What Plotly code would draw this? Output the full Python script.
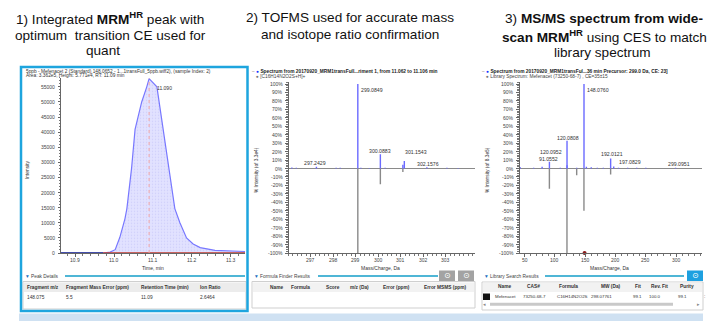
import plotly.graph_objects as go

W, H = 720, 331
def X(px): return px / W
def Y(py): return 1 - py / H

FONT = "Liberation Sans, Arial, sans-serif"
SYM = "DejaVu Sans, sans-serif"

# ---------------- data ----------------
# Panel 1: XIC of MRM-HR transition (time, min / intensity)
rt_min = [10.864, 10.972, 10.990, 11.003, 11.015, 11.028, 11.033, 11.045, 11.054,
          11.071, 11.084, 11.090, 11.110, 11.122, 11.136, 11.156, 11.169, 11.186,
          11.203, 11.221, 11.259, 11.300, 11.336]
rt_intensity = [0, 0, 300, 1100, 5200, 11300, 14700, 28000, 40900,
                50000, 55000, 57710, 55000, 44700, 33000, 14700, 10000, 5000,
                3000, 1800, 900, 600, 500]
integration_start = 10.972
apex_label = "11.090"
rt_ticks = [10.9, 11.0, 11.1, 11.2, 11.3]
int_ticks = list(range(0, 55001, 5000))

# Panel 2: TOF MS spectrum (blue, up) vs theoretical isotope pattern (gray, down)
tof_mz = [296.15, 296.35, 297.2429, 298.12, 298.30, 299.0849, 299.22, 299.60, 300.0883,
          300.30, 301.09, 301.1543, 302.1576, 303.05, 303.55]
tof_pct = [1.2, 0.8, 2.2, 0.8, 0.8, 100, 1.0, 0.6, 17, 1.0, 4.5, 9, 1.5, 0.8, 0.5]
tof_ref_mz = [299.0849, 300.0883, 301.09]
tof_ref_pct = [-100, -18.5, -4]
tof_label_mz = [299.0849, 297.2429, 300.0883, 301.1543, 302.1576]
mz_ticks_tof = [297, 298, 299, 300, 301, 302, 303]
pct_ticks = list(range(-100, 101, 10))

# Panel 3: MS/MS spectrum (blue, up) vs library spectrum (gray, down)
msms_mz = [43, 65, 79, 91.0552, 109, 120.0808, 120.0952, 136, 148.0760, 152, 160,
           170, 180, 192.0121, 197.0829, 205, 220, 235, 250, 299.0951]
msms_pct = [1.5, 1.0, 2.0, 8, 1.0, 33, 4, 1.0, 100, 2.0, 1.5, 1.0, 1.0, 12, 2.5,
            1.0, 1.0, 1.0, 1.0, 1.0]
lib_mz = [91.0, 120.0, 136.0, 148.0, 192.0]
lib_pct = [-24, -100, -8, -50, -7]
msms_label_mz = [148.0760, 120.0808, 120.0952, 91.0552, 192.0121, 197.0829, 299.0951]
precursor_marker_mz = [149]
mz_ticks_msms = [50, 100, 150, 200, 250, 300]

# table texts
peak_cols = ["Fragment m/z", "Fragment Mass Error (ppm)", "Retention Time (min)", "Ion Ratio"]
peak_row = ["148.075", "5.5", "11.09", "2.6464"]
ff_cols = ["Name", "Formula", "Score", "m/z (Da)", "Error (ppm)", "Error MSMS (ppm)"]
lib_cols = ["Name", "CAS#", "Formula", "MW (Da)", "Fit", "Rev. Fit", "Purity"]
lib_row = ["Mefenacet", "73250-68-7", "C16H14N2O2S", "298.07761", "99.1", "100.0", "99.1"]


def spikes(mz, vals):
    xs, ys = [], []
    for m, v in zip(mz, vals):
        xs += [m, m, None]
        ys += [0, v, None]
    return xs, ys


fig = go.Figure()

# ---- panel 1 ----
fig.add_trace(go.Scatter(
    x=rt_min, y=rt_intensity, mode="lines", fill="tozeroy",
    fillcolor="rgba(200,200,255,0.6)",
    fillpattern=dict(shape=".", fgcolor="rgba(150,150,235,0.5)",
                     bgcolor="rgba(206,206,255,0.6)", size=3, solidity=0.2),
    line=dict(color="#7878ff", width=1.2), xaxis="x", yaxis="y", hoverinfo="skip"))
fig.add_trace(go.Scatter(x=[rt_min[0], integration_start], y=[0, 0], mode="lines",
                         line=dict(color="#1c2a8c", width=1.3), xaxis="x", yaxis="y"))
fig.add_trace(go.Scatter(x=[integration_start, rt_min[-1]], y=[0, 0], mode="lines",
                         line=dict(color="#c0392b", width=1.3), xaxis="x", yaxis="y"))
i_apex = rt_intensity.index(max(rt_intensity))
fig.add_trace(go.Scatter(x=[rt_min[i_apex], rt_min[i_apex]], y=[0, rt_intensity[i_apex]],
                         mode="lines", line=dict(color="#f2a5a5", width=1, dash="dot"),
                         xaxis="x", yaxis="y"))

# ---- panel 2 ----
gx, gy = spikes(tof_ref_mz, tof_ref_pct)
fig.add_trace(go.Scatter(x=gx, y=gy, mode="lines", line=dict(color="#8a8a8a", width=1.4),
                         xaxis="x2", yaxis="y2"))
bx, by = spikes(tof_mz, tof_pct)
fig.add_trace(go.Scatter(x=bx, y=by, mode="lines", line=dict(color="#6a6aff", width=1.4),
                         xaxis="x2", yaxis="y2"))

# ---- panel 3 ----
gx, gy = spikes(lib_mz, lib_pct)
fig.add_trace(go.Scatter(x=gx, y=gy, mode="lines", line=dict(color="#8a8a8a", width=1.4),
                         xaxis="x3", yaxis="y3"))
bx, by = spikes(msms_mz, msms_pct)
fig.add_trace(go.Scatter(x=bx, y=by, mode="lines", line=dict(color="#6a6aff", width=1.4),
                         xaxis="x3", yaxis="y3"))
fig.add_trace(go.Scatter(x=precursor_marker_mz, y=[-100], mode="markers", cliponaxis=False,
                         marker=dict(color="#8b1a1a", size=4, symbol="circle"),
                         xaxis="x3", yaxis="y3"))

axfont = dict(family=FONT, size=5, color="#444")
common_axis = dict(showline=True, linecolor="#666", linewidth=1, ticks="outside",
                   ticklen=2.5, tickwidth=0.8, tickcolor="#666", showgrid=False,
                   showticklabels=False, fixedrange=True)

fig.update_layout(
    width=W, height=H, margin=dict(l=0, r=0, t=0, b=0),
    paper_bgcolor="white", plot_bgcolor="white", showlegend=False,
    xaxis=dict(domain=[X(61), X(245)], range=[10.864, 11.336], anchor="y",
               tickvals=rt_ticks,
               minor=dict(ticks="outside", ticklen=1.5, dtick=0.02, tickcolor="#777"),
               zeroline=False, **common_axis),
    yaxis=dict(domain=[Y(253), Y(77.8)], range=[0, 58000], anchor="x",
               tickvals=int_ticks, zeroline=False,
               minor=dict(ticks="outside", ticklen=1.5, dtick=1000, tickcolor="#777"),
               **common_axis),
    xaxis2=dict(domain=[X(288.5), X(475)], range=[296.0, 304.3], anchor="y2",
                tickvals=mz_ticks_tof, zeroline=False,
                minor=dict(ticks="outside", ticklen=1.5, dtick=0.2, tickcolor="#777"),
                **common_axis),
    yaxis2=dict(domain=[Y(253), Y(81.5)], range=[-100, 103], anchor="x2",
                tickvals=pct_ticks,
                zeroline=True, zerolinecolor="#8a8a8a", zerolinewidth=1,
                minor=dict(ticks="outside", ticklen=1.5, dtick=2, tickcolor="#777"),
                **common_axis),
    xaxis3=dict(domain=[X(519.5), X(702)], range=[41.7, 342.7], anchor="y3",
                tickvals=mz_ticks_msms, zeroline=False,
                minor=dict(ticks="outside", ticklen=1.5, dtick=10, tickcolor="#777"),
                **common_axis),
    yaxis3=dict(domain=[Y(253), Y(81.5)], range=[-100, 103], anchor="x3",
                tickvals=pct_ticks,
                zeroline=True, zerolinecolor="#8a8a8a", zerolinewidth=1,
                minor=dict(ticks="outside", ticklen=1.5, dtick=2, tickcolor="#777"),
                **common_axis),
)

ann = []
def text(px, py, s, size=5, color="#333", xanchor="left", angle=0, family=FONT):
    ann.append(dict(x=X(px), y=Y(py), xref="paper", yref="paper", text=s,
                    showarrow=False, xanchor=xanchor, yanchor="middle",
                    textangle=angle, font=dict(family=family, size=size, color=color)))

def ytick_labels(axis_px, yref, vals, suffix=""):
    for v in vals:
        ann.append(dict(x=X(axis_px - 3.5), y=v, xref="paper", yref=yref,
                        text=f"{v}{suffix}", showarrow=False, xanchor="right",
                        yanchor="middle", font=axfont))

def xtick_labels(xref, vals, fmt="{}"):
    for v in vals:
        ann.append(dict(x=v, y=Y(259.5), xref=xref, yref="paper",
                        text=fmt.format(v), showarrow=False, xanchor="center",
                        yanchor="middle", font=axfont))

ytick_labels(61, "y", int_ticks)
ytick_labels(288.5, "y2", pct_ticks, "%")
ytick_labels(519.5, "y3", pct_ticks, "%")
xtick_labels("x", rt_ticks, "{:.1f}")
xtick_labels("x2", mz_ticks_tof)
xtick_labels("x3", mz_ticks_msms)

# ---- titles ----
TS = 13.6
text(110, 18, "1) Integrated <b>MRM<sup>HR</sup></b> peak with", TS, "#111", "center")
text(110, 35, "optimum  transition CE used for", TS, "#111", "center")
text(103, 51, "quant", TS, "#111", "center")
text(350, 17, "2) TOFMS used for accurate mass", TS, "#111", "center")
text(350, 34, "and isotope ratio confirmation", TS, "#111", "center")
text(604, 19, "3) <b>MS/MS spectrum from wide-</b>", TS, "#111", "center")
text(604, 36, "<b>scan MRM<sup>HR</sup></b> using CES to match", TS, "#111", "center")
text(602, 52, "library spectrum", TS, "#111", "center")

# ---- headers ----
text(24, 71, "5ppb - Mefenacet 2 (Standard) 148.0652 - 1...1transFull_5ppb.wiff2), (sample Index: 2)", 4.8)
text(24, 76, "Area: 3.362e5, Height: 5.771e4, RT: 11.09 min", 4.8)
text(250, 71.5, "<span style='color:#666'>−</span> <span style='color:#1030ff'>●</span> "
     "<b>Spectrum from 20170920_MRM1transFull...riment 1, from 11.062 to 11.106 min</b>", 4.8, "#222")
text(254, 76.5, "<span style='color:#777'>●</span> [C16H14N2O2S+H]+", 4.8, "#444")
text(480, 71.5, "<span style='color:#666'>−</span> <span style='color:#1030ff'>●</span> "
     "<b>Spectrum from 20170920_MRM1transFul...36 min Precursor: 299.0 Da, CE: 23]</b>", 4.8, "#222")
text(484, 76.5, "<span style='color:#777'>●</span> Library Spectrum: Mefenacet (73250-68-7) , CE=35±15", 4.8, "#444")

# ---- axis titles ----
text(27, 170, "Intensity", 4.8, "#333", "center", -90)
text(153, 267.5, "Time, min", 5, "#333", "center")
text(256, 170, "% Intensity (of 3.3e4)", 4.8, "#333", "center", -90)
text(380, 267.5, "Mass/Charge, Da", 5, "#333", "center")
text(487, 170, "% Intensity (of 8.3e5)", 4.8, "#333", "center", -90)
text(609, 267.5, "Mass/Charge, Da", 5, "#333", "center")

# ---- peak labels ----
text(155, 88, apex_label, 5)
p2_pos = [(372, 90), (315, 163), (380, 151), (416, 152), (427.5, 164)]
for m, (px, py) in zip(tof_label_mz, p2_pos):
    text(px, py, f"{m:.4f}", 5.2, "#333", "center")
p3_pos = [(597.5, 90), (567.7, 137.7), (550.5, 151.7), (548.5, 159), (612, 154.3),
          (630.3, 162), (679, 164.3)]
for m, (px, py) in zip(msms_label_mz, p3_pos):
    text(px, py, f"{m:.4f}", 5.2, "#333", "center")

# ---- section headers ----
text(23, 276, "<span style='color:#1a6fc0'>▼</span> Peak Details", 4.8, "#444")
text(252, 276, "<span style='color:#1a6fc0'>▼</span> Formula Finder Results", 4.8, "#444")
text(482, 276, "<span style='color:#1a6fc0'>▼</span> Library Search Results", 4.8, "#444")

# ---- tables ----
for s, px in zip(peak_cols, [25, 64.3, 139.3, 197.7]):
    text(px, 287.3, f"<b>{s}</b>", 4.8, "#333")
for s, px in zip(peak_row, [25, 64.3, 139.3, 197.7]):
    text(px, 297.3, s, 4.8, "#333")
for s, px in zip(ff_cols, [267.7, 289, 324, 348, 381, 421.7]):
    text(px, 287.7, f"<b>{s}</b>", 4.8, "#333")
for s, px in zip(lib_cols, [496, 525, 557.3, 599.3, 632.7, 649.3, 678.3]):
    text(px, 286.8, f"<b>{s}</b>", 4.8, "#333")
for s, px in zip(lib_row, [492.5, 520.7, 554.5, 588.5, 630.7, 647.3, 676]):
    text(px, 296.8, s, 4.4, "#333")
text(701.5, 296.8, ":", 4.8, "#333")
text(484.5, 304.3, "◂", 5, "#888", "center", family=SYM)
text(698.5, 304.3, "▸", 5, "#888", "center", family=SYM)
text(447, 275.8, "⊙", 8, "white", "center", family=SYM)
text(466, 275.8, "⊙", 8, "white", "center", family=SYM)
text(695, 275.8, "⊙", 8, "white", "center", family=SYM)

fig.update_layout(annotations=ann)

shapes = []
def rect(x0, y0, x1, y1, fill=None, line=None, lw=1):
    shapes.append(dict(type="rect", xref="paper", yref="paper",
                       x0=X(x0), x1=X(x1), y0=Y(y1), y1=Y(y0),
                       fillcolor=fill if fill else "rgba(0,0,0,0)",
                       line=dict(color=line if line else "rgba(0,0,0,0)", width=lw if line else 0),
                       layer="below"))
def hline(x0, x1, py, color, lw):
    shapes.append(dict(type="line", xref="paper", yref="paper", x0=X(x0), x1=X(x1),
                       y0=Y(py), y1=Y(py), line=dict(color=color, width=lw)))

# panel 1 frame
shapes.append(dict(type="rect", xref="paper", yref="paper", x0=X(21), x1=X(247.5),
                   y0=Y(311), y1=Y(67), line=dict(color="#1ea5de", width=2.5)))
# bottom bar
rect(19, 313.5, 703, 321, fill="#cfe1f2")
# section lines
hline(65, 245, 276, "#4fb6d6", 1.8)
hline(318, 438, 276, "#4fb6d6", 1.8)
hline(545, 684, 276, "#4fb6d6", 1.8)
# buttons
rect(439, 270.5, 455, 281, fill="#a3a3a3")
rect(458, 270.5, 474, 281, fill="#a3a3a3")
rect(687, 270.5, 703, 281, fill="#1ea0e0")
# tables
rect(23, 281.5, 246, 309, fill="white", line="#cfcfcf")
rect(24, 282.5, 245, 292, fill="#ececec")
rect(252, 281.5, 475, 308, fill="white", line="#cfcfcf")
rect(253, 282.5, 474, 292, fill="#f2f2f2")
rect(482, 282, 703, 310, fill="white", line="#cfcfcf")
rect(483, 282.5, 702, 292, fill="#f2f2f2")
rect(483, 293.5, 490, 300, fill="#111")
rect(490, 302.8, 673, 305.8, fill="#c9c9c9")
fig.update_layout(shapes=shapes)

fig.write_html("out.html")
